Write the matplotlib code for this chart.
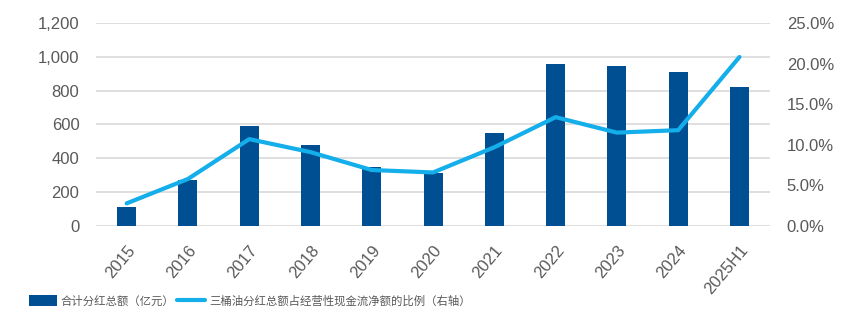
import numpy as np
import matplotlib.pyplot as plt
from matplotlib.ticker import FuncFormatter

plt.rcParams['font.family'] = ['Liberation Sans', 'Noto Sans CJK SC', 'DejaVu Sans']

years = ['2015', '2016', '2017', '2018', '2019', '2020', '2021', '2022', '2023', '2024', '2025H1']
dividends = [112, 272, 591, 479, 349, 313, 550, 958, 946, 910, 822]   # 亿元
ratio = [2.8, 5.8, 10.7, 9.1, 6.9, 6.6, 9.7, 13.4, 11.5, 11.8, 20.8]  # %

bar_color = '#004f93'
line_color = '#14aeea'
text_color = '#595959'

fig = plt.figure(figsize=(8.5, 3.36), dpi=100)
ax = fig.add_axes([0.113, 0.327, 0.793, 0.605])
ax2 = ax.twinx()

x = np.arange(len(years))
ax.bar(x, dividends, width=0.31, color=bar_color, label='合计分红总额（亿元）', zorder=2)
ax2.plot(x, ratio, color=line_color, linewidth=3, label='三桶油分红总额占经营性现金流净额的比例（右轴）',
         solid_capstyle='round', zorder=3)

ax.set_xlim(-0.5, len(years) - 0.5)
ax.set_ylim(0, 1200)
ax.set_yticks(np.arange(0, 1201, 200))
ax.yaxis.set_major_formatter(FuncFormatter(lambda v, p: f'{int(v):,}'))
ax2.set_ylim(0, 25)
ax2.set_yticks(np.arange(0, 25.1, 5))
ax2.yaxis.set_major_formatter(FuncFormatter(lambda v, p: f'{v:.1f}%'))

ax.set_xticks(x)
ax.set_xticklabels(years, rotation=50, ha='right', rotation_mode='anchor')
ax.grid(axis='y', color='#d9d9d9', linewidth=1.2, zorder=0)
ax.set_axisbelow(True)

for a in (ax, ax2):
    for s in a.spines.values():
        s.set_visible(False)
    a.tick_params(length=0, labelsize=12, colors=text_color)
ax.tick_params(axis='y', pad=12)
ax2.tick_params(axis='y', pad=12)
ax.tick_params(axis='x', pad=12)

h1, l1 = ax.get_legend_handles_labels()
h2, l2 = ax2.get_legend_handles_labels()
fig.legend(h1 + h2, l1 + l2, loc='center left', bbox_to_anchor=(0.022, 0.105), ncol=2,
           frameon=False, fontsize=8.2, handlelength=2.5, handleheight=1.1, handletextpad=0.3,
           columnspacing=0.2, labelcolor=text_color)

fig.savefig('out.png', dpi=100)
